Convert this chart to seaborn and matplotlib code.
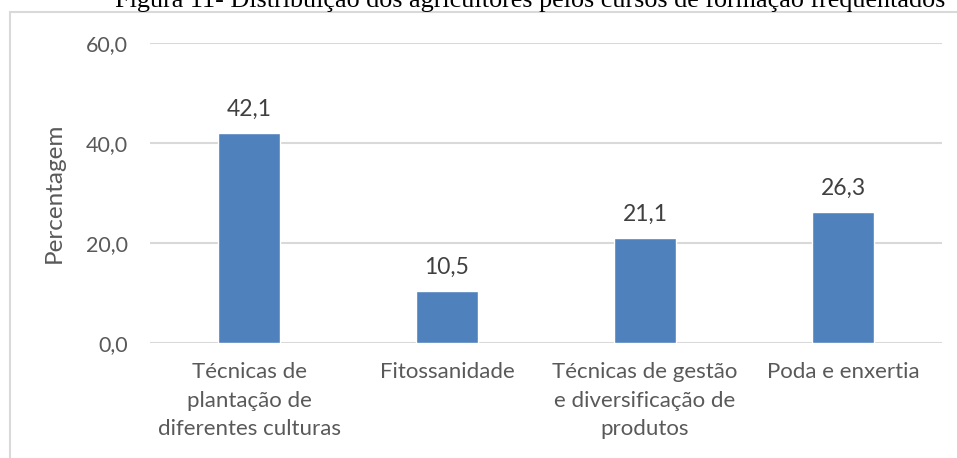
import matplotlib
matplotlib.use("Agg")
import matplotlib.pyplot as plt
import matplotlib.lines as mlines
import pandas as pd
import seaborn as sns

# data
cursos = ["Técnicas de\nplantação de\ndiferentes culturas",
          "Fitossanidade",
          "Técnicas de gestão\ne diversificação de\nprodutos",
          "Poda e enxertia"]
percentagem = [42.1, 10.5, 21.1, 26.3]
yticks = [0, 20, 40, 60]

df = pd.DataFrame({"curso": cursos, "pct": percentagem})

sns.set_style("white")
plt.rcParams["font.family"] = ["Lato", "DejaVu Sans"]
txt = "#595959"
grid = "#d9d9d9"

fig = plt.figure(figsize=(9.57, 4.58), dpi=100)
W, H = 957, 458
ax = fig.add_axes([150 / W, 1 - 343 / H, 792 / W, 300 / H])

sns.barplot(data=df, x="curso", y="pct", color="#4f81bd", saturation=1,
            width=0.31, ax=ax, zorder=3)

ax.set_ylim(0, 60)
ax.set_xlim(-0.5, 3.5)
ax.set_yticks(yticks)
ax.set_yticklabels([f"{v:.1f}".replace(".", ",") for v in yticks],
                   fontsize=15.5, color=txt)
ax.set_xticks(range(len(cursos)))
ax.set_xticklabels(cursos, fontsize=16, color=txt, linespacing=1.52)
ax.tick_params(axis="both", length=0)
ax.tick_params(axis="y", pad=16)
ax.tick_params(axis="x", pad=14)
ax.yaxis.grid(True, color=grid, lw=1.5, zorder=0)
ax.set_axisbelow(True)
for s in ax.spines.values():
    s.set_visible(False)
ax.set_xlabel("")
ax.set_ylabel("Percentagem", fontsize=17.5, color=txt)
ax.yaxis.set_label_coords(-0.108, 0.5)

# value labels
for i, v in enumerate(percentagem):
    ax.annotate(f"{v:.1f}".replace(".", ","), (i, v), xytext=(0, 12),
                textcoords="offset points", ha="center", va="baseline",
                fontsize=16.5, color="#404040")

# document frame around the chart
fig.add_artist(mlines.Line2D([10 / W, 10 / W], [0, 1 - 12 / H], color=grid, lw=1.5))
fig.add_artist(mlines.Line2D([10 / W, 1], [1 - 12 / H, 1 - 12 / H], color=grid, lw=1.5))

fig.text(530 / W, 1 - 7 / H,
         "Figura 11- Distribuição dos agricultores pelos cursos de formação frequentados",
         ha="center", va="baseline", fontsize=18.8, family="Liberation Serif",
         color="black")

fig.savefig("out.png", dpi=100)
